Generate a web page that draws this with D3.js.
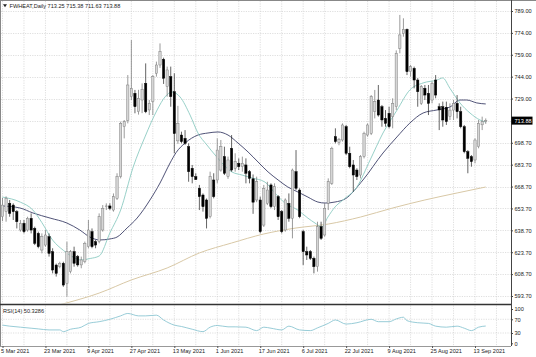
<!DOCTYPE html>
<html><head><meta charset="utf-8">
<script src="https://cdn.jsdelivr.net/npm/d3@7"></script>
<style>
html,body{margin:0;padding:0;background:#fff;}
svg{display:block;font-family:"Liberation Sans",Arial,sans-serif;}
</style></head><body>
<svg id="c" width="536" height="357"></svg>
<script>
// ---- data ----
const symbol = "FWHEAT,Daily";
const lastQuote = [713.25, 715.38, 711.63, 713.88];
const open = [648,651.5,657.2,656,651.5,638.9,643.5,638.9,646.9,640,
 636.6,625.2,628.6,634.4,624.1,614.9,613.8,616.1,602.4,610.4,
 624.1,620.7,615,617.2,627.5,637.8,630.9,630.9,638.9,654.9,
 655.4,652.6,660.6,675.5,709.7,714,730.3,732.6,720,728,
 739.4,721.2,726.9,746.3,752,755.9,737.2,744,733.7,700,
 704,701.7,696,681.2,675.5,667.5,662.9,659.5,648,673.2,
 673.2,680,689.2,675.5,694.9,681.2,684.6,682.3,683.5,678.9,
 674,659.5,659.5,642.3,657.2,669.8,654.9,661.8,651.5,638.9,
 657.2,646.9,678.9,666.3,637.8,624.1,624.1,619.5,613.8,641.2,
 635.5,657.2,670.9,702.9,698.8,700.6,709.7,691.5,683.5,680,
 676.6,689.2,704,705.2,720,728,723.4,715.4,718.9,716.6,
 723.4,763.4,773.7,776.4,747.4,749.7,741.7,725.7,736,732.6,
 728,741.7,723.4,723.4,723,716.6,721.1,725.7,720,709.7,
 692.6,689.2,686.9,696,711,713.25];
const high = [661,662,659.5,657.2,652.6,645.8,645.8,648,650.3,641.2,
 637.8,636.6,638.9,636.6,626.4,615.9,617.2,617.2,630.9,625.2,
 627.5,621.8,620.7,631,645.8,640,632.1,650.3,656,657.2,
 657.2,664,677.8,713.2,714.3,745.1,769.1,734.9,735,739.4,
 753.1,728,745.1,754.3,766.8,757,750.9,750.9,746.3,724,
 706.3,707.4,698.3,683.5,677.8,669.8,664,660.5,678.9,677.8,
 701.7,700.6,696,689.2,704,691.5,688,689.2,688,680,
 677,675.5,661.8,669.8,672,670.9,670.9,662.9,652.6,660.6,
 664,681,693.7,667.5,639,627.5,625.2,620.7,644.6,644.6,
 657.2,674.3,696,708.6,702,712,710.9,696,686.9,681.2,
 690.3,706.3,712,731.4,734.9,738.3,724.6,721.1,723.4,729.2,
 762,786.3,784,777,752,750.9,743,738.3,738.3,738.3,
 740.6,745.1,725.7,726.9,726.9,725.7,728,731.4,723.4,710.9,
 693.7,690.3,701.7,714.3,716.6,715.38];
const low = [645,644.6,648,645.8,640,637.8,636.6,637.8,636.6,628.6,
 626.4,622.9,627.5,620.7,609.2,607,612.7,600,593.2,609.2,
 613.8,613.8,612.7,616.1,626.4,626.4,626.4,629.8,637.8,652.6,
 652.6,651.5,659.5,674.3,701.7,712,728,718.9,718,719,
 719,717.7,717.7,744,750,739,730.3,723.4,691.5,698,
 698.3,697.2,672,670.9,673.2,652.6,651.5,640,646.9,660.6,
 670.9,678.9,676.6,674,678.9,678.9,680,678.9,670.9,670.9,
 650,658,636.6,641,656,653.8,652.6,645.8,636.6,637.8,
 644.6,633.2,666.3,647,614.9,618.4,618.4,609.2,610.4,632.1,
 634.4,652.6,669.8,698.3,697,699.5,690.3,681.2,665.2,673.2,
 674.3,688,702.9,704,715.4,716.6,709.7,709.7,708.6,708.6,
 721.1,760,771.4,745.1,744,736,723.4,724.6,728,717.7,
 725.7,729.2,707.4,709.7,710.9,714.3,714.3,715.4,708.6,691.5,
 677.8,682.3,684.6,694.9,707.4,711.63];
const close = [656,660.6,650.3,651.5,644.6,643.5,637.8,646.9,638.9,629.8,
 627.5,634.4,635.5,622.9,611.5,609.2,616.1,601.2,624.1,624.1,
 616.1,615,618.4,629.8,638.9,627.5,628.6,648,653.8,655.4,
 653.8,661.8,675.5,712,713.2,738.3,736,723.4,729.2,735.3,
 720,725.7,744,752,761.1,742.9,748.6,730.3,705,712,
 699.5,698.3,678.9,675.5,673.5,661.8,654.9,646.9,675.5,661.8,
 693.7,696,677.8,686.9,680,685.7,682.3,684.6,677.8,674.3,
 658,672,637.8,667.5,666.3,654.9,668.6,648,637.8,659.5,
 646.9,680,667.5,648,624.1,621.8,619.5,613.8,641.2,633.2,
 653.8,672,694.9,699.5,701.1,710.9,691.5,682.3,676.6,675.5,
 689.2,705.2,710.9,730.3,726.9,717.7,714.3,712,709.7,725.7,
 760,772.6,776.4,747.4,750.9,741.7,733.7,737.2,731.4,725.7,
 739.4,731.4,721.2,714.3,713.2,721.1,725.7,720,709.7,692.6,
 688,685.8,700.6,712,713.2,713.88];

// moving averages, read as [bar index, value]
const maFast = [[0,661.5],[5,658],[8.5,652.6],[11,644],[14,632],[17,625],[20,620],[22,618.4],[24.5,619.4],[27,621.1],
 [30,636.9],[33,652.6],[36.5,682],[39.8,702.7],[43.2,721.2],[45.4,730.1],[47.3,733.5],[49.6,730.1],[52.4,717.7],[54.6,705.4],
 [57.1,697.2],[59.4,690.3],[64.1,678.7],[66.9,676.6],[69.7,674.6],[73.3,671.8],[76.1,664.3],[78.9,657.4],[82.5,652.6],[85.3,647.1],
 [87.3,643.7],[89.2,641],[90.9,647.8],[92.9,654.7],[95.1,659.5],[99,668.4],[102.7,686.9],[106.3,705.4],[110.2,721],[113.8,734.9],
 [117.5,739.7],[121.4,741.7],[123,743.1],[125,736],[127.8,726],[130.6,719.1],[133.4,714.3],[135,712.9]];
const maMid = [[0,655.4],[4.9,654],[8.5,650.6],[13.3,647.1],[18,643.7],[21.6,638.9],[24.4,634.1],[27.2,632.1],[30,632.8],[32,634.1],
 [34.8,640.3],[37.6,647.1],[41.2,659.5],[44,671.1],[46.8,684.8],[48.5,692],[51,698.5],[54.6,704],[57.4,705.4],[60.2,706.1],
 [63,704],[65.8,698.5],[68.6,692.4],[71.4,685.5],[74.2,678.7],[77,673.2],[79.7,668.4],[82.5,665],[85.3,661.5],[88.1,658.1],
 [90.1,657.4],[92.9,658.1],[95.7,660.2],[100.7,673.2],[106.3,691.7],[110.2,702.7],[113.8,712.2],[117.5,719.1],[121.4,721.2],[125,723.2],
 [127.8,728],[129.7,728],[132.5,726],[135,725.3]];
const maSlow = [[8,583],[18,589],[27,595.7],[36,604.7],[46,612.9],[55,623.2],[64,630],[73,636.2],[82,640.3],[91,643],
 [100,647.8],[109,654],[118,659.5],[127,664.3],[135,668.4]];
const rsi = [[0,53],[2,50],[5,47],[8,44],[10,42],[13,39],[16,39],[17,34],[19,41],[22,47],[24,58],[27,63],[30,70],[33,80],[35,87],
 [38,80],[40,80],[43,82],[45,68],[48,53],[50,49],[53,41],[56,34],[58,47],[60,52],[63,48],[65,48],[68,47],[71,37],[73,47],
 [75,44],[78,39],[80,50],[83,39],[86,37],[88,45],[91,58],[93,68],[96,56],[99,60],[103,70],[105,63],[108,63],[110,71],[112,76],
 [113,66],[116,60],[119,58],[121,50],[124,47],[127,50],[129,44],[131,37],[133,47],[135,50.3286]];
const rsiLabel = "RSI(14) 50.3286";
const priceTicks = [789.00,774.00,759.00,744.00,729.00,713.70,698.70,683.70,668.70,653.70,638.70,623.70,608.70,593.70];
const rsiTicks = [100,70,30,0];
const dateIdx = [0,12,24,36,48,60,72,84,96,108,120,132];
const dateLabels = ["5 Mar 2021","23 Mar 2021","9 Apr 2021","27 Apr 2021","13 May 2021","1 Jun 2021","17 Jun 2021","6 Jul 2021","22 Jul 2021","9 Aug 2021","25 Aug 2021","13 Sep 2021"];
const gridIdx = d3.range(0, 139, 6);

// ---- layout ----
const svg = d3.select("#c");
const axisX = 511, mainTop = 1, mainBot = 303.5, rsiTop = 305.5, rsiBot = 346;
const x = d3.scaleLinear().domain([0,132]).range([2.5,475]);
const y = d3.scaleLinear().domain([593.7,789]).range([296,11]);
const yr = d3.scaleLinear().domain([0,100]).range([343.3,309]);
const FS = 5.6;

const defs = svg.append("defs");
defs.append("clipPath").attr("id","cm").append("rect").attr("x",0).attr("y",mainTop).attr("width",axisX).attr("height",mainBot-mainTop);
defs.append("clipPath").attr("id","cr").append("rect").attr("x",0).attr("y",rsiTop).attr("width",axisX).attr("height",rsiBot-rsiTop);

// grid
const grid = svg.append("g").attr("stroke","#c9c9c9").attr("stroke-width",0.6).attr("stroke-dasharray","1.2,1.2");
grid.selectAll("line.h").data(priceTicks).join("line").attr("x1",1).attr("x2",axisX)
  .attr("y1",d=>Math.round(y(d))+0.5).attr("y2",d=>Math.round(y(d))+0.5);
grid.selectAll("line.v").data(gridIdx).join("line").attr("class","v")
  .attr("x1",d=>x(d)).attr("x2",d=>x(d)).attr("y1",mainTop).attr("y2",mainBot);
grid.selectAll("line.rv").data(gridIdx).join("line").attr("class","rv")
  .attr("x1",d=>x(d)).attr("x2",d=>x(d)).attr("y1",rsiTop).attr("y2",rsiBot);
grid.selectAll("line.rh").data([70,30]).join("line").attr("class","rh").attr("x1",1).attr("x2",axisX)
  .attr("y1",d=>yr(d)).attr("y2",d=>yr(d));

// moving averages
const main = svg.append("g").attr("clip-path","url(#cm)");
const lineGen = d3.line().x(d=>x(d[0])).y(d=>y(d[1])).curve(d3.curveMonotoneX);
main.append("path").datum(maSlow).attr("d",lineGen).attr("fill","none").attr("stroke","#d8c8a6").attr("stroke-width",1);
main.append("path").datum(maMid).attr("d",lineGen).attr("fill","none").attr("stroke","#3c3f68").attr("stroke-width",0.9);
main.append("path").datum(maFast).attr("d",lineGen).attr("fill","none").attr("stroke","#8ccbc2").attr("stroke-width",0.9);

// candles
const bars = d3.range(open.length).map(i=>({i,o:open[i],h:high[i],l:low[i],c:close[i]}));
const bw = 2.3;
const cg = main.append("g");
cg.selectAll("line").data(bars).join("line")
  .attr("x1",d=>x(d.i)).attr("x2",d=>x(d.i)).attr("y1",d=>y(d.h)).attr("y2",d=>y(d.l))
  .attr("stroke",d=>d.c>=d.o?"#6e6e6e":"#222").attr("stroke-width",0.7);
cg.selectAll("rect").data(bars).join("rect")
  .attr("x",d=>x(d.i)-bw/2).attr("width",bw)
  .attr("y",d=>y(Math.max(d.o,d.c)))
  .attr("height",d=>Math.max(0.7,Math.abs(y(d.o)-y(d.c))))
  .attr("fill",d=>d.c>=d.o?"#d6d6d6":"#000")
  .attr("stroke",d=>d.c>=d.o?"#777":"#000").attr("stroke-width",0.45);

// RSI
const rg = svg.append("g").attr("clip-path","url(#cr)");
rg.append("path").datum(rsi).attr("d",d3.line().x(d=>x(d[0])).y(d=>yr(d[1])).curve(d3.curveMonotoneX))
  .attr("fill","none").attr("stroke","#8cc6d2").attr("stroke-width",0.9);

// frames
const fr = svg.append("g").attr("stroke","#555").attr("fill","none");
fr.append("line").attr("x1",0).attr("x2",536).attr("y1",0.5).attr("y2",0.5).attr("stroke","#888");
fr.append("line").attr("x1",0.5).attr("x2",0.5).attr("y1",0).attr("y2",rsiBot).attr("stroke","#888");
fr.append("line").attr("x1",0).attr("x2",axisX).attr("y1",304.5).attr("y2",304.5).attr("stroke","#333").attr("stroke-width",1.6);
fr.append("line").attr("x1",0).attr("x2",axisX).attr("y1",rsiBot+0.5).attr("y2",rsiBot+0.5).attr("stroke","#999");

// price axis
const pa = svg.append("g").attr("transform",`translate(${axisX},0)`)
  .call(d3.axisRight(y).tickValues(priceTicks).tickFormat(d=>d.toFixed(2)).tickSize(2).tickPadding(1.5));
pa.select(".domain").attr("stroke","#444").attr("d",`M0.5,0V${rsiBot}`);
pa.selectAll(".tick line").attr("stroke","#444");
pa.selectAll("text").attr("font-size",FS).attr("font-family","Liberation Sans, Arial").attr("fill","#222");
pa.selectAll(".tick").filter(d=>d===713.70).remove();

// RSI axis
const ra = svg.append("g").attr("transform",`translate(${axisX},0)`)
  .call(d3.axisRight(yr).tickValues(rsiTicks).tickFormat(d3.format("d")).tickSize(2).tickPadding(1.5));
ra.select(".domain").remove();
ra.selectAll(".tick line").attr("stroke","#444");
ra.selectAll("text").attr("font-size",FS).attr("font-family","Liberation Sans, Arial").attr("fill","#222");

// current price box
const cy = y(lastQuote[3]);
svg.append("rect").attr("x",axisX+0.5).attr("y",cy-4).attr("width",21).attr("height",8).attr("fill","#000");
svg.append("text").attr("x",axisX+3.5).attr("y",cy).attr("dy","0.35em").attr("font-size",FS).attr("fill","#fff").text(lastQuote[3].toFixed(2));

// date axis
const da = svg.append("g").attr("transform",`translate(0,${rsiBot})`)
  .call(d3.axisBottom(x).tickValues(dateIdx).tickFormat((d,i)=>dateLabels[i]).tickSize(2).tickPadding(1.5));
da.select(".domain").remove();
da.selectAll(".tick line").attr("stroke","#555");
da.selectAll("text").attr("font-size",FS).attr("font-family","Liberation Sans, Arial").attr("fill","#222")
  .attr("text-anchor","start").attr("x",-2);

// title
svg.append("path").attr("d","M3,4.2L7,4.2L5,7.2Z").attr("fill","#222");
svg.append("text").attr("x",9.5).attr("y",8.2).attr("font-size",FS).attr("fill","#222")
  .text(symbol + "  " + lastQuote.map(v=>v.toFixed(2)).join(" "));
svg.append("text").attr("x",3).attr("y",313).attr("font-size",FS).attr("fill","#222").text(rsiLabel);
</script>
</body></html>
